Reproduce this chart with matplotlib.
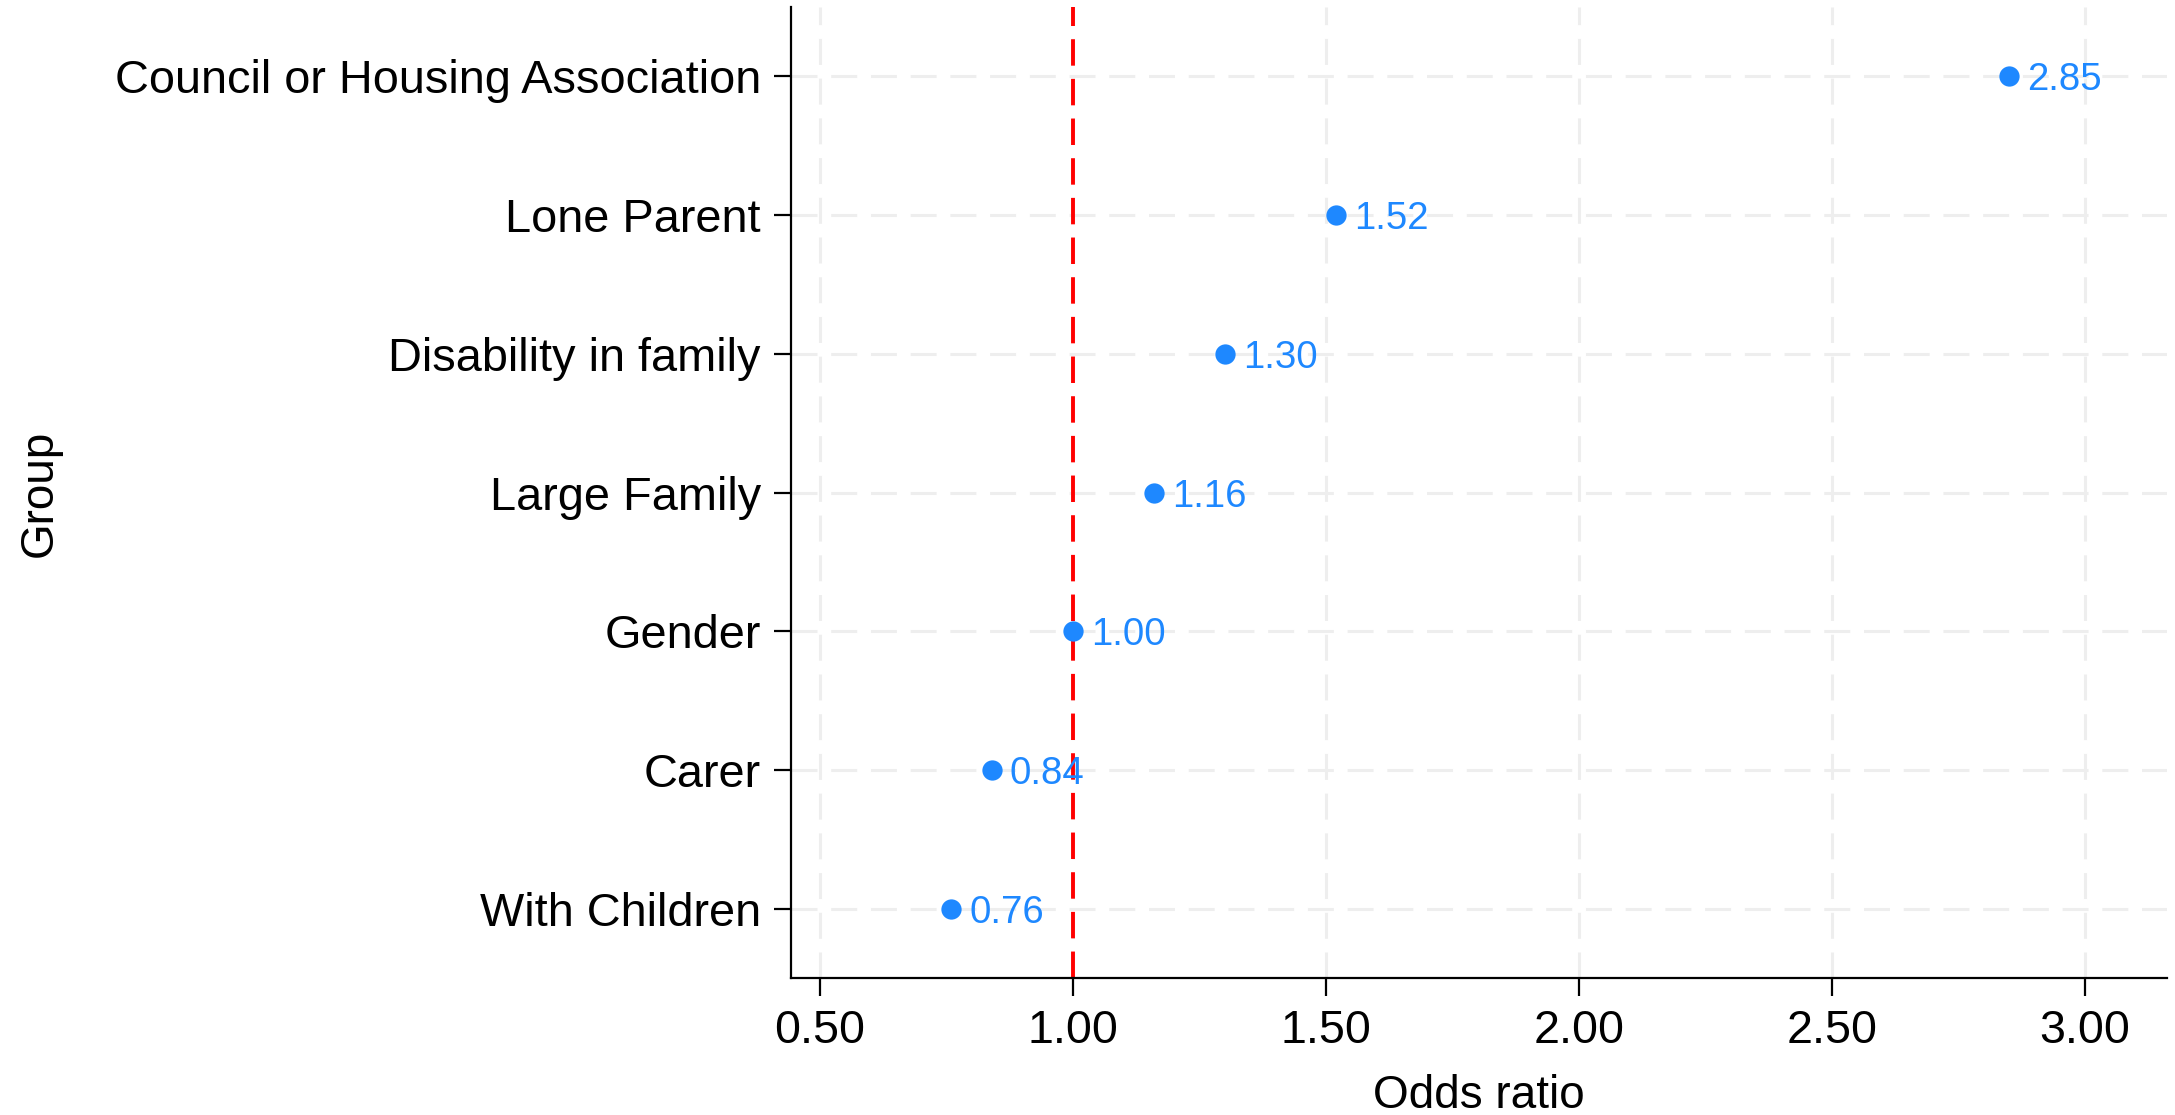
import matplotlib
matplotlib.use("Agg")
import matplotlib.pyplot as plt

plt.rcParams['font.family'] = ['Liberation Sans', 'DejaVu Sans']

groups = ["With Children", "Carer", "Gender", "Large Family",
          "Disability in family", "Lone Parent", "Council or Housing Association"]
odds = [0.76, 0.84, 1.00, 1.16, 1.30, 1.52, 2.85]
xticks = [0.5, 1.0, 1.5, 2.0, 2.5, 3.0]
xticklabels = ["0.50", "1.00", "1.50", "2.00", "2.50", "3.00"]

blue = '#1E88FF'
grid_col = '#EEEEEE'

W, H = 2175, 1115
fig = plt.figure(figsize=(W / 200, H / 200), dpi=200)
ax = fig.add_axes([791 / W, 1 - 978 / H, (2167 - 791) / W, (978 - 7) / H])

ypos = list(range(1, len(groups) + 1))

ax.set_xlim(0.443, 3.162)
ax.set_ylim(0.5, 7.5)

ax.set_xticks(xticks)
ax.set_xticklabels(xticklabels)
ax.set_yticks(ypos)
ax.set_yticklabels(groups)

ax.grid(True, color=grid_col, linewidth=1.1, linestyle=(0, (8.5, 4.5)), zorder=0)
ax.set_axisbelow(True)

ax.axvline(1.0, color='#FF0000', linewidth=1.4, linestyle=(0, (6.8, 3.4)), zorder=2)

ax.plot(odds, ypos, linestyle='none', marker='o', markersize=7.3, color=blue,
        markeredgewidth=0, zorder=3)
for x, y in zip(odds, ypos):
    ax.annotate(f"{x:.2f}", (x, y), xytext=(6.5, 0), textcoords='offset points',
                ha='left', va='center_baseline', color=blue, fontsize=13.8, zorder=4)

for s in ['top', 'right']:
    ax.spines[s].set_visible(False)
for s in ['left', 'bottom']:
    ax.spines[s].set_linewidth(0.8)
    ax.spines[s].set_color('black')

ax.tick_params(axis='both', length=6.3, width=0.8, color='black')
ax.tick_params(axis='x', pad=5, labelsize=16.8)
ax.tick_params(axis='y', pad=4.5, labelsize=16.9)

fig.text(1479 / W, 1 - 1108 / H, "Odds ratio", fontsize=16.5, ha='center', va='baseline')
fig.text(52 / W, 1 - 493 / H, "Group", fontsize=16.5, ha='center', va='baseline',
         rotation=90, rotation_mode='anchor')

fig.savefig("out.png", dpi=200, facecolor='white')
